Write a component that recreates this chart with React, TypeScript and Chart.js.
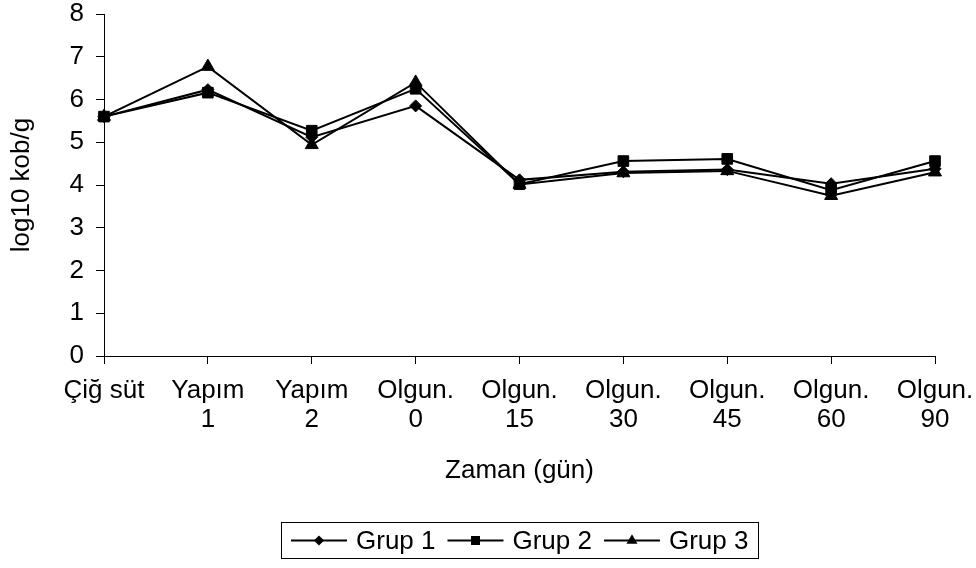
import React, { useEffect, useRef } from "react";
import { Chart, registerables } from "chart.js";

Chart.register(...registerables);

// Time points (multi-line category labels)
const categories: string[][] = [
  ["Çiğ süt"],
  ["Yapım", "1"],
  ["Yapım", "2"],
  ["Olgun.", "0"],
  ["Olgun.", "15"],
  ["Olgun.", "30"],
  ["Olgun.", "45"],
  ["Olgun.", "60"],
  ["Olgun.", "90"],
];

// log10 kob/g per group
const grup1 = [5.6, 6.23, 5.12, 5.85, 4.12, 4.31, 4.36, 4.03, 4.38];
const grup2 = [5.6, 6.16, 5.27, 6.25, 4.02, 4.56, 4.61, 3.88, 4.56];
const grup3 = [5.6, 6.77, 4.94, 6.4, 4.01, 4.28, 4.33, 3.75, 4.3];

const seriesNames = ["Grup 1", "Grup 2", "Grup 3"];
const yMin = 0;
const yMax = 8;
const yStep = 1;

const FONT = "'Liberation Sans', Arial, sans-serif";
const FONT_SIZE = 26;

type Marker = { style: "rectRot" | "rect" | "triangle"; radius: number };
const markers: Marker[] = [
  { style: "rectRot", radius: 6 },
  { style: "rect", radius: 7.5 },
  { style: "triangle", radius: 7.5 },
];

function markerPath(ctx: CanvasRenderingContext2D, m: Marker, x: number, y: number, scale = 1) {
  const r = m.radius * scale;
  ctx.beginPath();
  if (m.style === "rectRot") {
    ctx.moveTo(x - r, y);
    ctx.lineTo(x, y - r);
    ctx.lineTo(x + r, y);
    ctx.lineTo(x, y + r);
  } else if (m.style === "rect") {
    const s = Math.SQRT1_2 * r;
    ctx.rect(x - s, y - s, 2 * s, 2 * s);
  } else {
    let a = 0;
    ctx.moveTo(x + Math.sin(a) * r, y - Math.cos(a) * r);
    a += (2 * Math.PI) / 3;
    ctx.lineTo(x + Math.sin(a) * r, y - Math.cos(a) * r);
    a += (2 * Math.PI) / 3;
    ctx.lineTo(x + Math.sin(a) * r, y - Math.cos(a) * r);
  }
  ctx.closePath();
}

// Boxed legend under the axis title, centred on the plot area
const boxedLegend = {
  id: "boxedLegend",
  afterDraw(chart: any) {
    const ctx: CanvasRenderingContext2D = chart.ctx;
    const area = chart.chartArea;
    const lineLen = 56;
    const gapText = 9;
    const gapItem = 12;
    const padX = 10;
    const boxH = 36;
    ctx.save();
    ctx.font = `${FONT_SIZE}px ${FONT}`;
    const widths = seriesNames.map((n) => ctx.measureText(n).width);
    const total =
      padX * 2 +
      widths.reduce((s, w) => s + lineLen + gapText + w, 0) +
      gapItem * (seriesNames.length - 1);
    const cx = (area.left + area.right) / 2;
    const left = Math.round(cx - total / 2);
    const top = chart.height - 46;
    ctx.strokeStyle = "#000";
    ctx.lineWidth = 1;
    ctx.strokeRect(left + 0.5, top + 0.5, Math.round(total), boxH);
    const cy = top + boxH / 2 + 0.5;
    let x = left + padX;
    seriesNames.forEach((name, i) => {
      ctx.beginPath();
      ctx.moveTo(x, cy);
      ctx.lineTo(x + lineLen, cy);
      ctx.lineWidth = 2;
      ctx.strokeStyle = "#000";
      ctx.stroke();
      markerPath(ctx, markers[i], x + lineLen / 2, cy, 0.85);
      ctx.fillStyle = "#000";
      ctx.fill();
      x += lineLen + gapText;
      ctx.fillStyle = "#000";
      ctx.textBaseline = "middle";
      ctx.textAlign = "left";
      ctx.fillText(name, x, cy + 1);
      x += widths[i] + gapItem;
    });
    ctx.restore();
  },
};

export default function App() {
  const ref = useRef<HTMLCanvasElement | null>(null);

  useEffect(() => {
    if (!ref.current) return;
    const values = [grup1, grup2, grup3];
    const chart = new Chart(ref.current, {
      type: "line",
      data: {
        labels: categories,
        datasets: values.map((data, i) => ({
          label: seriesNames[i],
          data,
          borderColor: "#000",
          backgroundColor: "#000",
          borderWidth: 2,
          pointStyle: markers[i].style,
          pointRadius: markers[i].radius,
          pointBorderWidth: 1,
          pointBackgroundColor: "#000",
          pointBorderColor: "#000",
          tension: 0,
          fill: false,
        })),
      },
      options: {
        animation: false,
        responsive: true,
        maintainAspectRatio: false,
        layout: { padding: { top: 14, right: 41, bottom: 82, left: 0 } },
        plugins: {
          legend: { display: false },
          tooltip: { enabled: false },
        },
        scales: {
          x: {
            type: "category",
            offset: false,
            grid: {
              display: true,
              drawOnChartArea: false,
              drawTicks: true,
              tickLength: 8,
              color: "#000",
            },
            border: { display: true, color: "#000", width: 1 },
            ticks: {
              color: "#000",
              font: { family: FONT, size: FONT_SIZE, lineHeight: 1.1 },
              padding: 13,
              maxRotation: 0,
              autoSkip: false,
            },
            title: {
              display: true,
              text: "Zaman (gün)",
              color: "#000",
              font: { family: FONT, size: FONT_SIZE, lineHeight: 1.2 },
              padding: { top: 0, bottom: 0 },
            },
            afterFit: (scale: any) => {
              scale.height = 130;
              scale.paddingLeft = 0;
              scale.paddingRight = 0;
            },
          },
          y: {
            min: yMin,
            max: yMax,
            grid: {
              display: true,
              drawOnChartArea: false,
              drawTicks: true,
              tickLength: 8,
              color: "#000",
            },
            border: { display: true, color: "#000", width: 1 },
            ticks: {
              stepSize: yStep,
              color: "#000",
              font: { family: FONT, size: FONT_SIZE, lineHeight: 1 },
              padding: 12,
            },
            title: {
              display: true,
              text: "log10 kob/g",
              color: "#000",
              font: { family: FONT, size: FONT_SIZE, lineHeight: 1.2 },
              padding: { top: 6, bottom: 0 },
            },
            afterFit: (scale: any) => {
              scale.width = 104;
              scale.paddingTop = 0;
              scale.paddingBottom = 0;
            },
          },
        },
      },
      plugins: [boxedLegend],
    });
    return () => chart.destroy();
  }, []);

  return (
    <div style={{ position: "absolute", left: 0, top: 0, width: 976, height: 568, background: "#fff" }}>
      <canvas ref={ref} />
    </div>
  );
}
